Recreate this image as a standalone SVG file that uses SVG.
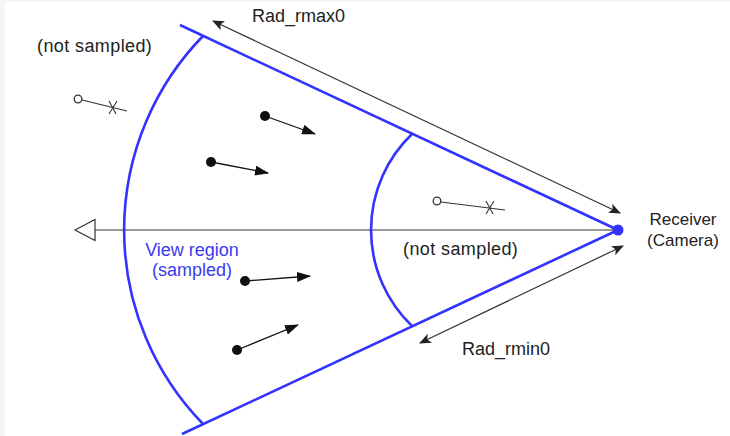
<svg xmlns="http://www.w3.org/2000/svg" width="730" height="436" viewBox="0 0 730 436">
<defs>
<style>
.t{font-family:"Liberation Sans",Arial,sans-serif;font-size:18px;fill:#222}
.tr{font-family:"Liberation Sans",Arial,sans-serif;font-size:17px;fill:#222}
.tb{font-family:"Liberation Sans",Arial,sans-serif;font-size:18px;fill:#3a3af0}
.ns{letter-spacing:0.4px}
.blue{fill:none;stroke:#3333ff;stroke-width:2.6}
.dim{fill:none;stroke:#333;stroke-width:1.2}
.vec{fill:none;stroke:#111;stroke-width:1.3}
.thin{fill:none;stroke:#333;stroke-width:1.1}
</style>
<marker id="ah" viewBox="0 0 12 10" refX="11" refY="5" markerWidth="12" markerHeight="10" markerUnits="userSpaceOnUse" orient="auto-start-reverse">
<path d="M0,0 L12,5 L0,10 L3,5 z" fill="#222"/>
</marker>
<marker id="vh" viewBox="0 0 14 10" refX="13" refY="5" markerWidth="14" markerHeight="10" markerUnits="userSpaceOnUse" orient="auto">
<path d="M0,0 L14,5 L0,10 z" fill="#111"/>
</marker>
</defs>
<rect x="0" y="0" width="730" height="436" fill="#f5f5f5"/>
<rect x="5" y="2" width="725" height="434" fill="#fff"/>

<g id="connectors">
<line class="dim" x1="95" y1="230" x2="618" y2="230"/>
<polygon id="axis-head" points="75,230 95,219.5 95,240.5" fill="#fff" stroke="#333" stroke-width="1.2"/>
<line class="dim" x1="213" y1="21" x2="620" y2="213" marker-start="url(#ah)" marker-end="url(#ah)"/>
<line class="dim" x1="420" y1="343" x2="623" y2="246" marker-start="url(#ah)" marker-end="url(#ah)"/>
</g>

<g id="view-region">
<line class="blue" x1="180" y1="25" x2="618" y2="230"/>
<line class="blue" x1="182" y1="434" x2="618" y2="230"/>
<path class="blue" d="M203,36 A278,278 0 0 0 203,424"/>
<path class="blue" d="M412,134 A133,133 0 0 0 412,326"/>
</g>

<g id="receiver">
<circle cx="618" cy="230" r="5.5" fill="#3333ff"/>
<text class="tr" x="683" y="225" text-anchor="middle">Receiver</text>
<text class="tr" x="683" y="246" text-anchor="middle">(Camera)</text>
</g>

<g id="sampled-particles">
<circle cx="265" cy="116" r="5" fill="#111"/>
<line class="vec" x1="265" y1="116" x2="315" y2="134" marker-end="url(#vh)"/>
<circle cx="211" cy="162" r="5" fill="#111"/>
<line class="vec" x1="211" y1="162" x2="268" y2="173" marker-end="url(#vh)"/>
<circle cx="245" cy="281" r="5" fill="#111"/>
<line class="vec" x1="245" y1="281" x2="310" y2="276" marker-end="url(#vh)"/>
<circle cx="237" cy="350" r="5" fill="#111"/>
<line class="vec" x1="237" y1="350" x2="298" y2="325" marker-end="url(#vh)"/>
</g>

<g id="unsampled-outer">
<circle cx="78" cy="99" r="3.8" fill="#fff" stroke="#333" stroke-width="1.3"/>
<line class="thin" x1="82" y1="100" x2="127" y2="111"/>
<line class="thin" x1="109" y1="101" x2="116" y2="114"/>
<line class="thin" x1="117" y1="101" x2="109" y2="114"/>
</g>

<g id="unsampled-inner">
<circle cx="437" cy="201" r="3.8" fill="#fff" stroke="#333" stroke-width="1.3"/>
<line class="thin" x1="441" y1="202" x2="505" y2="210"/>
<line class="thin" x1="486" y1="201" x2="493" y2="214"/>
<line class="thin" x1="494" y1="201" x2="486" y2="214"/>
</g>

<g id="labels">
<text class="t" x="252" y="22">Rad_rmax0</text>
<text class="t ns" x="37" y="52">(not sampled)</text>
<text class="t ns" x="403" y="255">(not sampled)</text>
<text class="t" x="462" y="355">Rad_rmin0</text>
<text class="tb" x="192" y="256" text-anchor="middle">View region</text>
<text class="tb" x="192" y="276" text-anchor="middle">(sampled)</text>
</g>
</svg>
